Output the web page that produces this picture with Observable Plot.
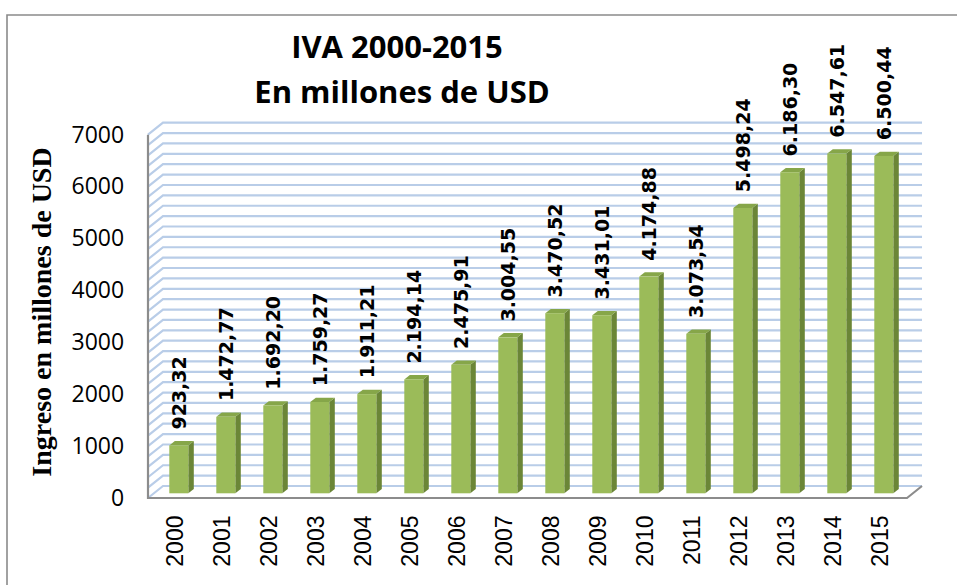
<!DOCTYPE html>
<html><head><meta charset="utf-8">
<script src="https://cdn.jsdelivr.net/npm/d3@7"></script>
<script src="https://cdn.jsdelivr.net/npm/@observablehq/plot@0.6"></script>
<style>
html,body{margin:0;padding:0;background:#fff;}
#wrap{position:relative;width:957px;height:585px;overflow:hidden;}
#chart svg{display:block;}
#overlay{position:absolute;left:0;top:0;pointer-events:none;}
</style></head><body>
<div id="wrap"><div id="chart"></div><svg id="overlay" width="957" height="585"></svg></div>
<script>
// ---- data ----
const years = ["2000","2001","2002","2003","2004","2005","2006","2007","2008","2009","2010","2011","2012","2013","2014","2015"];
const values = [923.32, 1472.77, 1692.20, 1759.27, 1911.21, 2194.14, 2475.91, 3004.55, 3470.52, 3431.01, 4174.88, 3073.54, 5498.24, 6186.30, 6547.61, 6500.44];
const yTicks = [0, 1000, 2000, 3000, 4000, 5000, 6000, 7000];
const gridStep = 200;
const titleLines = ["IVA 2000-2015", "En millones de USD"];
const yLabel = "Ingreso en millones de USD";

// ---- layout / style ----
const W = 957, H = 585;
const ML = 149.67, MR = 50, MT = 134.7, MB = 87;
const wallLeft = 148, wallDX = 15, wallDY = -12;
const barDX = 3.3, barDY = -4.7, depthX = 5.5, depthY = -4.3;
const gridColor = "#B9CDE8", edgeColor = "#8C8C8C";
const frontColor = "#9BBB59", sideColor = "#6B8637", topColor = "#86A649";

const fmt = d3.formatLocale({decimal: ",", thousands: ".", grouping: [3], currency: ["", ""]}).format(",.2f");
const data = years.map((year, i) => ({year, value: values[i], label: fmt(values[i])}));
const gridValues = d3.range(0, yTicks[yTicks.length - 1] + 1, gridStep);

function walls(index, scales, vals, dims) {
  const {y} = scales;
  const g = d3.create("svg:g");
  const xR = dims.width - dims.marginRight;
  for (const v of gridValues) {
    const yy = y(v);
    g.append("path")
      .attr("d", `M${wallLeft},${yy}L${wallLeft + wallDX},${yy + wallDY}L${xR + wallDX},${yy + wallDY}`)
      .attr("fill", "none").attr("stroke", gridColor).attr("stroke-width", 2.2);
  }
  const y0 = y(0), yTop = y(yTicks[yTicks.length - 1]);
  g.append("path")
    .attr("d", `M${wallLeft},${yTop}L${wallLeft},${y0}L${xR},${y0}L${xR + wallDX},${y0 + wallDY}`)
    .attr("fill", "none").attr("stroke", edgeColor).attr("stroke-width", 2.2);
  return g.node();
}

function barFaces(index, scales, vals, dims) {
  const {x, y} = scales;
  const bw = x.bandwidth();
  const g = d3.create("svg:g");
  for (const d of data) {
    const L = x(d.year) + barDX, R = L + bw, T = y(d.value) + barDY, B = y(0) + barDY;
    g.append("path")
      .attr("d", `M${R},${B}L${R + depthX},${B + depthY}L${R + depthX},${T + depthY}L${R},${T}Z`)
      .attr("fill", sideColor);
    g.append("path")
      .attr("d", `M${L},${T}L${R},${T}L${R + depthX},${T + depthY}L${L + depthX},${T + depthY}Z`)
      .attr("fill", topColor);
  }
  return g.node();
}

const chart = Plot.plot({
  width: W, height: H,
  marginLeft: ML, marginRight: MR, marginTop: MT, marginBottom: MB,
  x: {domain: years, type: "band", paddingInner: 0.6, paddingOuter: 0.3, axis: null},
  y: {domain: [0, 7000], axis: null},
  style: {background: "transparent", overflow: "visible"},
  marks: [
    walls,
    barFaces,
    Plot.barY(data, {x: "year", y: "value", fill: frontColor, dx: barDX, dy: barDY}),
    Plot.text(data, {x: "year", y: "value", text: "label", rotate: -90, textAnchor: "start", lineAnchor: "middle",
      dx: 4, dy: -21, fontSize: 19, fontWeight: "bold", fontFamily: "DejaVu Sans", fill: "#000"}),
    Plot.text(yTicks, {y: d => d, text: d => String(d), frameAnchor: "left", textAnchor: "end",
      dx: -26, fontSize: 23, fontFamily: "Open Sans", fill: "#000"}),
    Plot.text(years, {x: d => d, text: d => d, frameAnchor: "bottom", rotate: -90, textAnchor: "end", lineAnchor: "middle",
      dy: 17, fontSize: 23, fontFamily: "Liberation Sans", fill: "#000"})
  ]
});
document.getElementById("chart").appendChild(chart);

// ---- overlay: border, titles, y label ----
const ov = d3.select("#overlay");
ov.append("path").attr("d", "M7,585L7,15L957,15").attr("fill", "none").attr("stroke", "#8A8A8A").attr("stroke-width", 1.6);
ov.append("text").attr("x", 397).attr("y", 58).attr("text-anchor", "middle")
  .attr("font-family", "Open Sans").attr("font-weight", "bold").attr("font-size", 31).attr("fill", "#000")
  .text(titleLines[0]);
ov.append("text").attr("x", 402).attr("y", 103).attr("text-anchor", "middle")
  .attr("font-family", "Open Sans").attr("font-weight", "bold").attr("font-size", 31).attr("fill", "#000")
  .text(titleLines[1]);
ov.append("text").attr("transform", "translate(51,312) rotate(-90)").attr("text-anchor", "middle")
  .attr("font-family", "Liberation Serif").attr("font-weight", "bold").attr("font-size", 28).attr("fill", "#000")
  .text(yLabel);
</script>
</body></html>
